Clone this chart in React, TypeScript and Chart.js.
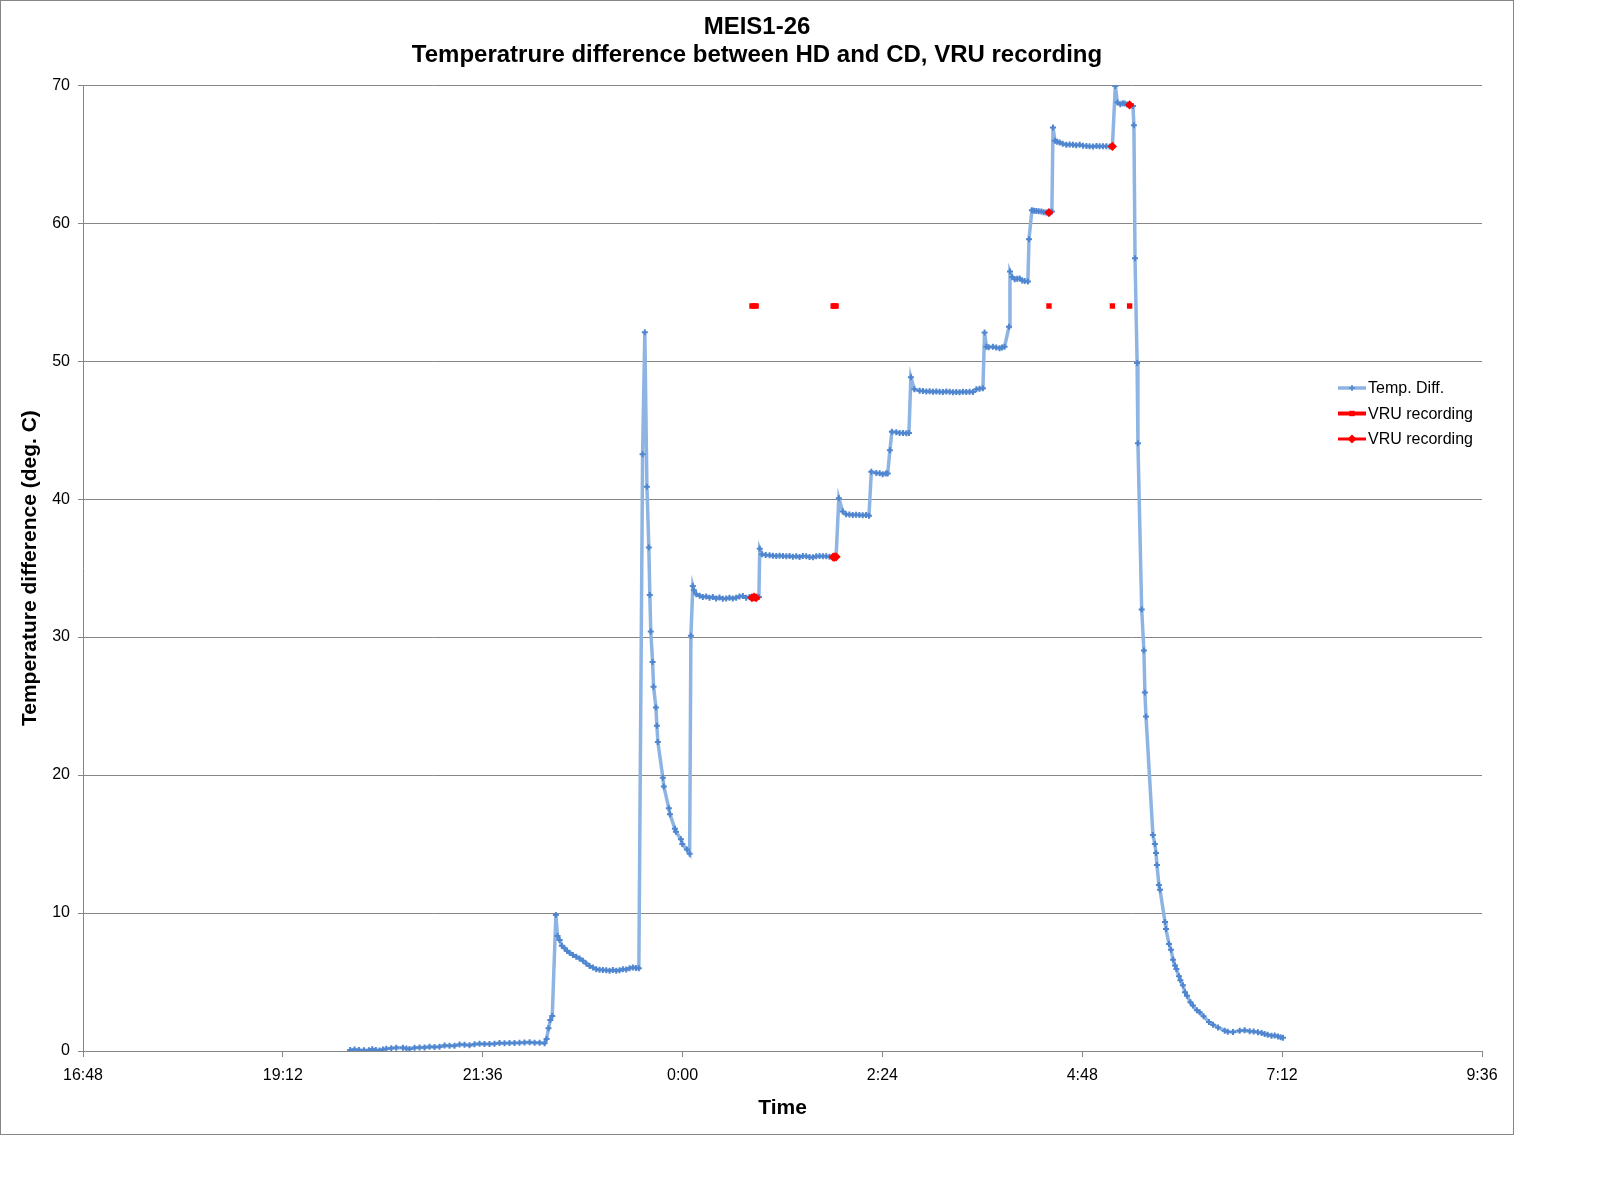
import { useEffect, useRef } from "react";
import { Chart, registerables } from "chart.js";

Chart.register(...registerables);

const FONT = '"Liberation Sans", Arial, sans-serif';
const GREY = "#868686";

// time = minutes after midnight of the first evening (0:00 next day = 1440)
const diffTimes = [
    1200.5, 1203.6, 1206.8, 1210.4, 1214.0, 1216.4, 1219.0, 1221.7, 1224.1, 1226.5, 1230.1, 1233.7, 1238.5, 1241.0,
    1243.3, 1246.9, 1250.5, 1254.1, 1257.7, 1261.3, 1264.9, 1268.5, 1272.1, 1275.7, 1279.3, 1282.9, 1286.5, 1290.1,
    1293.7, 1297.3, 1300.9, 1304.5, 1308.1, 1311.7, 1315.3, 1318.9, 1322.5, 1326.1, 1329.8, 1333.4, 1337.0, 1340.6,
    1342.0, 1343.4, 1344.7, 1346.1, 1348.7, 1349.9, 1351.4, 1353.0, 1355.0, 1356.8, 1358.6, 1361.0, 1363.4, 1365.8,
    1368.2, 1370.6, 1373.0, 1375.4, 1377.8, 1380.2, 1382.6, 1385.0, 1387.4, 1389.8, 1392.2, 1394.6, 1397.0, 1399.4,
    1401.8, 1404.2, 1406.4, 1408.5, 1411.2, 1412.8, 1414.3, 1415.7, 1416.4, 1417.1, 1418.4, 1419.1, 1420.8, 1421.5,
    1422.2, 1425.8, 1426.5, 1430.1, 1430.9, 1434.5, 1435.2, 1438.8, 1439.8, 1443.1, 1445.1, 1446.0, 1447.4, 1448.2,
    1449.9, 1452.3, 1454.6, 1457.0, 1459.4, 1461.8, 1464.2, 1466.6, 1469.0, 1471.4, 1473.8, 1476.2, 1478.6, 1481.0,
    1483.4, 1485.8, 1488.2, 1490.0, 1491.5, 1493.0, 1495.0, 1495.6, 1497.2, 1499.9, 1502.7, 1505.1, 1507.5, 1509.9,
    1512.3, 1514.7, 1517.1, 1519.5, 1521.9, 1524.3, 1526.7, 1529.1, 1531.5, 1533.9, 1536.3, 1538.7, 1541.1, 1543.5,
    1545.9, 1548.5, 1549.5, 1550.6, 1552.6, 1555.4, 1557.8, 1560.2, 1562.6, 1565.0, 1567.4, 1569.8, 1572.2, 1574.3,
    1576.0, 1579.6, 1582.0, 1584.2, 1586.4, 1587.8, 1589.4, 1590.8, 1594.0, 1596.4, 1598.8, 1601.2, 1603.1, 1604.5,
    1607.0, 1610.8, 1613.2, 1615.6, 1618.0, 1620.4, 1622.8, 1625.2, 1627.6, 1630.0, 1632.4, 1634.8, 1637.2, 1639.6,
    1642.0, 1644.4, 1646.8, 1649.2, 1651.7, 1654.0, 1656.4, 1657.6, 1658.9, 1660.5, 1663.6, 1666.0, 1668.4, 1670.2,
    1672.0, 1675.2, 1675.9, 1677.5, 1679.3, 1681.1, 1682.9, 1684.7, 1686.5, 1688.8, 1689.6, 1691.7, 1693.3, 1694.9,
    1696.6, 1698.5, 1700.2, 1702.0, 1704.0, 1706.1, 1706.9, 1708.3, 1709.9, 1711.7, 1713.9, 1716.5, 1718.9, 1721.3,
    1723.6, 1726.1, 1728.5, 1731.0, 1733.3, 1735.7, 1738.2, 1740.5, 1742.9, 1745.3, 1747.7, 1749.7, 1751.8, 1753.3,
    1755.4, 1757.1, 1758.5, 1760.3, 1762.1, 1764.5, 1765.2, 1766.0, 1767.5, 1768.1, 1770.8, 1772.4, 1773.1, 1773.9,
    1778.9, 1780.3, 1781.1, 1781.8, 1783.2, 1784.0, 1787.6, 1788.3, 1790.5, 1791.9, 1793.4, 1794.8, 1795.8, 1797.7,
    1798.7, 1800.5, 1802.0, 1803.4, 1805.9, 1807.7, 1810.6, 1812.6, 1815.4, 1819.3, 1822.2, 1825.8, 1830.6, 1832.8,
    1836.6, 1841.4, 1845.0, 1848.6, 1851.5, 1854.6, 1857.2, 1859.4, 1861.6, 1864.3, 1866.6, 1869.0, 1870.9, 1872.6,
];

const diffValues = [
    0.07, 0.1, 0.08, 0.06, 0.05, 0.12, 0.08, 0.03, 0.1, 0.17, 0.2, 0.24, 0.23, 0.18,
    0.15, 0.24, 0.26, 0.25, 0.31, 0.29, 0.31, 0.4, 0.38, 0.38, 0.47, 0.45, 0.41, 0.49,
    0.53, 0.5, 0.51, 0.53, 0.58, 0.56, 0.58, 0.58, 0.59, 0.62, 0.63, 0.6, 0.6, 0.56,
    0.87, 1.64, 2.25, 2.54, 9.85, 8.33, 8.04, 7.63, 7.44, 7.25, 7.12, 6.95, 6.83, 6.7,
    6.54, 6.35, 6.16, 6.05, 5.92, 5.88, 5.87, 5.85, 5.82, 5.87, 5.82, 5.85, 5.92, 5.9,
    5.99, 6.06, 6.02, 5.99, 43.26, 52.09, 40.9, 36.5, 33.05, 30.4, 28.2, 26.4, 24.9, 23.57,
    22.4, 19.8, 19.17, 17.6, 17.16, 16.1, 15.9, 15.35, 15.0, 14.6, 14.3, 30.1, 33.7, 33.4,
    33.1, 33.0, 32.9, 32.95, 32.85, 32.9, 32.8, 32.87, 32.78, 32.8, 32.85, 32.8, 32.85, 32.95,
    32.97, 32.85, 32.9, 32.85, 32.9, 32.85, 32.9, 36.4, 36.0, 35.95, 35.93, 35.9, 35.88, 35.9,
    35.88, 35.85, 35.87, 35.83, 35.85, 35.8, 35.87, 35.85, 35.8, 35.78, 35.85, 35.87, 35.85, 35.85,
    35.83, 35.8, 35.8, 35.82, 40.07, 39.1, 38.9, 38.88, 38.85, 38.87, 38.85, 38.83, 38.85, 38.8,
    41.98, 41.9, 41.88, 41.8, 41.85, 41.86, 43.55, 44.88, 44.85, 44.8, 44.8, 44.78, 44.8, 48.84,
    47.97, 47.85, 47.83, 47.8, 47.82, 47.78, 47.8, 47.78, 47.77, 47.8, 47.78, 47.75, 47.77, 47.75,
    47.78, 47.77, 47.78, 47.77, 47.97, 48.0, 48.04, 52.08, 51.04, 51.0, 51.04, 50.98, 50.94, 50.98,
    51.04, 52.5, 56.5, 56.1, 55.94, 55.97, 55.99, 55.85, 55.8, 55.77, 58.84, 60.94, 60.9, 60.89,
    60.87, 60.85, 60.8, 60.78, 60.77, 60.85, 66.93, 65.97, 65.9, 65.85, 65.75, 65.68, 65.7, 65.68,
    65.65, 65.68, 65.62, 65.6, 65.57, 65.56, 65.6, 65.58, 65.57, 65.58, 65.55, 65.56, 69.95, 68.74,
    68.62, 68.7, 68.67, 68.6, 68.57, 68.5, 67.1, 57.46, 49.86, 44.04, 32.0, 29.03, 25.99, 24.25,
    15.65, 15.0, 14.35, 13.48, 12.03, 11.69, 9.35, 8.84, 7.75, 7.34, 6.62, 6.2, 5.94, 5.41,
    5.12, 4.76, 4.25, 4.01, 3.53, 3.29, 2.95, 2.8, 2.51, 2.1, 1.91, 1.71, 1.47, 1.4,
    1.38, 1.47, 1.5, 1.43, 1.42, 1.35, 1.3, 1.23, 1.18, 1.11, 1.12, 1.05, 1.0, 0.96,
];

// VRU recording moments: a marker row at a fixed level, and the temp. diff. at that moment
const vruTimes = [1490.0, 1491.5, 1493.0, 1548.5, 1549.5, 1550.6, 1704.0, 1749.7, 1762.1];
const vruLevel = 54;
const vruDiffs = [32.85, 32.9, 32.85, 35.8, 35.8, 35.82, 60.77, 65.56, 68.57];

const xMin = 1008; // 16:48
const xMax = 2016; // 9:36 next morning
const xStep = 144; // 2:24
const yMin = 0;
const yMax = 70;
const yStep = 10;

const chartTitle = ["MEIS1-26", "Temperatrure difference between HD and CD, VRU recording"];
const xTitle = "Time";
const yTitle = "Temperature difference (deg. C)";
const seriesNames = ["Temp. Diff.", "VRU recording", "VRU recording"];

function clock(value: number) {
    const m = Math.round(value) % 1440;
    const h = Math.floor(m / 60);
    const mm = m % 60;
    return `${h}:${mm < 10 ? "0" : ""}${mm}`;
}

// break the line wherever two recordings are far apart
function withGaps(times: number[], values: number[]) {
    const out: any[] = [];
    times.forEach((t, i) => {
        if (i > 0 && t - times[i - 1] > 5) out.push({ x: (t + times[i - 1]) / 2, y: null });
        out.push({ x: t, y: values[i] });
    });
    return out;
}

function marker(ctx: CanvasRenderingContext2D, style: string, x: number, y: number, r: number, color: string) {
    ctx.save();
    ctx.fillStyle = color;
    ctx.strokeStyle = color;
    ctx.beginPath();
    if (style === "rect") {
        const s = r * Math.SQRT1_2;
        ctx.rect(x - s, y - s, 2 * s, 2 * s);
        ctx.fill();
    } else if (style === "rectRot") {
        ctx.moveTo(x - r, y);
        ctx.lineTo(x, y - r);
        ctx.lineTo(x + r, y);
        ctx.lineTo(x, y + r);
        ctx.closePath();
        ctx.fill();
    } else {
        ctx.lineWidth = 1.5;
        ctx.moveTo(x - r, y);
        ctx.lineTo(x + r, y);
        ctx.moveTo(x, y - r);
        ctx.lineTo(x, y + r);
        ctx.stroke();
    }
    ctx.restore();
}

// legend sits inside the plot, in the empty space right of the data
const insideLegend = {
    id: "insideLegend",
    afterDraw(chart: any) {
        const ctx: CanvasRenderingContext2D = chart.ctx;
        const left = 1337;
        const top = 387;
        chart.data.datasets.forEach((ds: any, i: number) => {
            const y = top + i * 25.5;
            ctx.save();
            ctx.strokeStyle = ds.borderColor;
            ctx.lineWidth = ds.borderWidth;
            ctx.beginPath();
            ctx.moveTo(left, y);
            ctx.lineTo(left + 28, y);
            ctx.stroke();
            marker(ctx, ds.pointStyle, left + 14, y, ds.pointRadius, ds.pointBorderColor);
            ctx.fillStyle = "#000";
            ctx.font = `16px ${FONT}`;
            ctx.textBaseline = "middle";
            ctx.fillText(ds.label, left + 30, y + 1);
            ctx.restore();
        });
    },
};

export default function App() {
    const canvasRef = useRef<HTMLCanvasElement>(null);

    useEffect(() => {
        if (!canvasRef.current) return;
        const chart = new Chart(canvasRef.current, {
            type: "line",
            data: {
                datasets: [
                    {
                        label: seriesNames[0],
                        data: diffTimes.map((t, i) => ({ x: t, y: diffValues[i] })),
                        borderColor: "#8DB4E3",
                        borderWidth: 3.5,
                        pointStyle: "cross",
                        pointRadius: 3,
                        pointBorderWidth: 2,
                        pointBorderColor: "#4F86CF",
                        pointBackgroundColor: "#4F86CF",
                        tension: 0,
                        order: 3,
                    },
                    {
                        label: seriesNames[1],
                        data: withGaps(vruTimes, vruTimes.map(() => vruLevel)),
                        borderColor: "#FF0000",
                        borderWidth: 4,
                        pointStyle: "rect",
                        pointRadius: 3.8,
                        pointBorderWidth: 0,
                        pointBorderColor: "#FF0000",
                        pointBackgroundColor: "#FF0000",
                        spanGaps: false,
                        order: 2,
                    },
                    {
                        label: seriesNames[2],
                        data: withGaps(vruTimes, vruDiffs),
                        borderColor: "#FF0000",
                        borderWidth: 3,
                        pointStyle: "rectRot",
                        pointRadius: 4.6,
                        pointBorderWidth: 0,
                        pointBorderColor: "#FF0000",
                        pointBackgroundColor: "#FF0000",
                        spanGaps: false,
                        order: 1,
                    },
                ] as any,
            },
            options: {
                responsive: false,
                animation: false,
                events: [],
                layout: { padding: 0 },
                scales: {
                    x: {
                        type: "linear",
                        min: xMin,
                        max: xMax,
                        ticks: {
                            stepSize: xStep,
                            autoSkip: false,
                            maxRotation: 0,
                            color: "#000",
                            padding: 9,
                            font: { family: FONT, size: 16 },
                            callback: (v: any) => clock(Number(v)),
                        },
                        grid: { drawOnChartArea: false, tickLength: 6, color: GREY },
                        border: { color: GREY },
                        title: {
                            display: true,
                            text: xTitle,
                            color: "#000",
                            font: { family: FONT, size: 21, weight: "bold", lineHeight: 1.2 },
                            padding: { top: 0, bottom: 13 },
                        },
                        afterFit: (s: any) => {
                            s.height = 83;
                            s.paddingRight = 31;
                        },
                    },
                    y: {
                        min: yMin,
                        max: yMax,
                        ticks: {
                            stepSize: yStep,
                            color: "#000",
                            padding: 8,
                            font: { family: FONT, size: 16 },
                        },
                        grid: { color: GREY, tickLength: 5 },
                        border: { color: GREY },
                        title: {
                            display: true,
                            text: yTitle,
                            color: "#000",
                            font: { family: FONT, size: 21, weight: "bold", lineHeight: 1.2 },
                            padding: { top: 17, bottom: 0 },
                        },
                        afterFit: (s: any) => {
                            s.width = 82;
                        },
                    },
                } as any,
                plugins: {
                    legend: { display: false },
                    tooltip: { enabled: false },
                    title: {
                        display: true,
                        text: chartTitle,
                        color: "#000",
                        font: { family: FONT, size: 24, weight: "bold", lineHeight: 1.15 },
                        padding: { top: 13, bottom: 16 },
                    },
                },
            },
            plugins: [insideLegend],
        });
        return () => chart.destroy();
    }, []);

    return (
        <div
            style={{
                position: "absolute",
                left: 0,
                top: 0,
                width: 1512,
                height: 1133,
                border: `1px solid ${GREY}`,
                background: "#fff",
            }}
        >
            <canvas ref={canvasRef} width={1512} height={1133} style={{ display: "block" }} />
        </div>
    );
}
